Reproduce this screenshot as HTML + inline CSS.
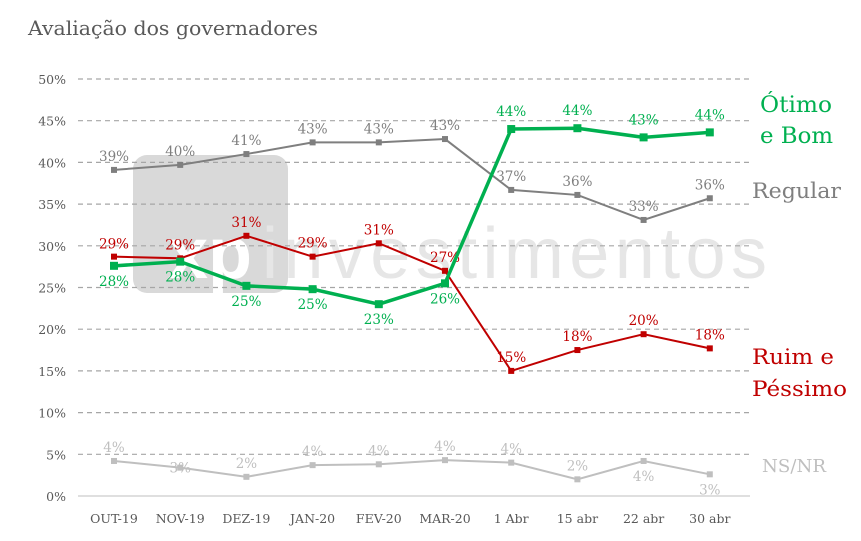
<!DOCTYPE html>
<html><head><meta charset="utf-8"><style>
body{margin:0;background:#fff;width:861px;height:536px;overflow:hidden}
svg{font-family:"DejaVu Serif","Liberation Serif",serif}
</style></head><body>
<svg id="c" width="861" height="536">
<text x="28" y="35" font-size="20" fill="#595959" textLength="290" lengthAdjust="spacingAndGlyphs">Avaliação dos governadores</text>
<g>
<rect x="133" y="155" width="155" height="138" rx="14" fill="#d9d9d9"/>
<text x="168" y="278" font-size="72" fill="#fff" font-family="Liberation Sans, sans-serif" font-weight="bold">xp</text>
<text x="262" y="278" font-size="72" fill="#e6e6e6" font-family="Liberation Sans, sans-serif" textLength="505">investimentos</text>
</g>
<g id="grid"></g><g id="xl"></g><g id="series"></g>
<text x="760" y="112" font-size="22" fill="#00b050" textLength="72" lengthAdjust="spacingAndGlyphs">Ótimo</text>
<text x="760" y="143" font-size="22" fill="#00b050" textLength="73" lengthAdjust="spacingAndGlyphs">e Bom</text>
<text x="752" y="198" font-size="21" fill="#7f7f7f" textLength="89" lengthAdjust="spacingAndGlyphs">Regular</text>
<text x="752" y="364" font-size="21" fill="#c00000" textLength="82" lengthAdjust="spacingAndGlyphs">Ruim e</text>
<text x="752" y="396" font-size="21" fill="#c00000" textLength="95" lengthAdjust="spacingAndGlyphs">Péssimo</text>
<text x="762" y="472" font-size="18" fill="#bfbfbf" textLength="64" lengthAdjust="spacingAndGlyphs">NS/NR</text>
</svg>
<script>
const categories=["OUT-19","NOV-19","DEZ-19","JAN-20","FEV-20","MAR-20","1 Abr","15 abr","22 abr","30 abr"];
const otimoBom=[27.6,28.1,25.2,24.8,23.0,25.5,44.0,44.1,43.0,43.6];
const regular=[39.1,39.7,41.0,42.4,42.4,42.8,36.7,36.1,33.1,35.7];
const ruim=[28.7,28.5,31.2,28.7,30.3,27.0,15.0,17.5,19.4,17.7];
const nsnr=[4.2,3.4,2.3,3.7,3.8,4.3,4.0,2.0,4.2,2.6];
const otimoLabels=["28%","28%","25%","25%","23%","26%","44%","44%","43%","44%"];
const regularLabels=["39%","40%","41%","43%","43%","43%","37%","36%","33%","36%"];
const ruimLabels=["29%","29%","31%","29%","31%","27%","15%","18%","20%","18%"];
const nsLabels=["4%","3%","2%","4%","4%","4%","4%","2%","4%","3%"];
const yTicks=[0,5,10,15,20,25,30,35,40,45,50];
const NS="http://www.w3.org/2000/svg";
const xS=i=>114+i*66.2, yS=v=>496-v*8.34;
function mk(t,a,p){const e=document.createElementNS(NS,t);for(const k in a)e.setAttribute(k,a[k]);p.appendChild(e);return e;}
const grid=document.getElementById('grid');
yTicks.forEach(v=>{
 if(v>0){const l=mk('line',{x1:78,x2:750,y1:yS(v),y2:yS(v),stroke:'#a6a6a6','stroke-dasharray':'5,4','stroke-width':1.2},grid);
 
 }
 const t=mk('text',{x:66,y:yS(v)+5,'text-anchor':'end','font-size':12.5,fill:'#595959'},grid);t.textContent=v+'%';
 
 
});
const ax=mk('line',{x1:78,x2:750,y1:496,y2:496,stroke:'#bfbfbf','stroke-width':1},grid);


const xl=document.getElementById('xl');
categories.forEach((c,i)=>{const t=mk('text',{x:xS(i),y:523,'text-anchor':'middle','font-size':12.5,fill:'#595959'},xl);t.textContent=c;
 
 });
const sg=document.getElementById('series');
function series(name,vals,labels,color,w,m,offs,lc){
 const g=mk('g',{},sg);
 
 
 const p=mk('polyline',{points:vals.map((v,i)=>xS(i)+','+yS(v)).join(' '),fill:'none',stroke:color,'stroke-width':w},g);
 
 
 vals.forEach((v,i)=>{const r=mk('rect',{x:xS(i)-m/2,y:yS(v)-m/2,width:m,height:m,fill:color},g);
  
  
  const t=mk('text',{x:xS(i),y:yS(v)+offs[i],'text-anchor':'middle','font-size':13.5,fill:lc},g);t.textContent=labels[i];
  
  });
}
const up=-9,dn=20;
series('regular',regular,regularLabels,'#7f7f7f',2,6,[up,up,up,up,up,up,up,up,up,up],'#7f7f7f');
series('ruim-pessimo',ruim,ruimLabels,'#c00000',2,6,[-8,up,up,up,up,up,up,up,up,up],'#c00000');
series('otimo-bom',otimoBom,otimoLabels,'#00b050',3.5,8,[dn,dn,dn,dn,dn,dn,-13,-13,-13,-13],'#00b050');
series('ns-nr',nsnr,nsLabels,'#bfbfbf',2,6,[up,5,up,up,up,up,up,up,dn,dn],'#bfbfbf');
</script>
</body></html>
